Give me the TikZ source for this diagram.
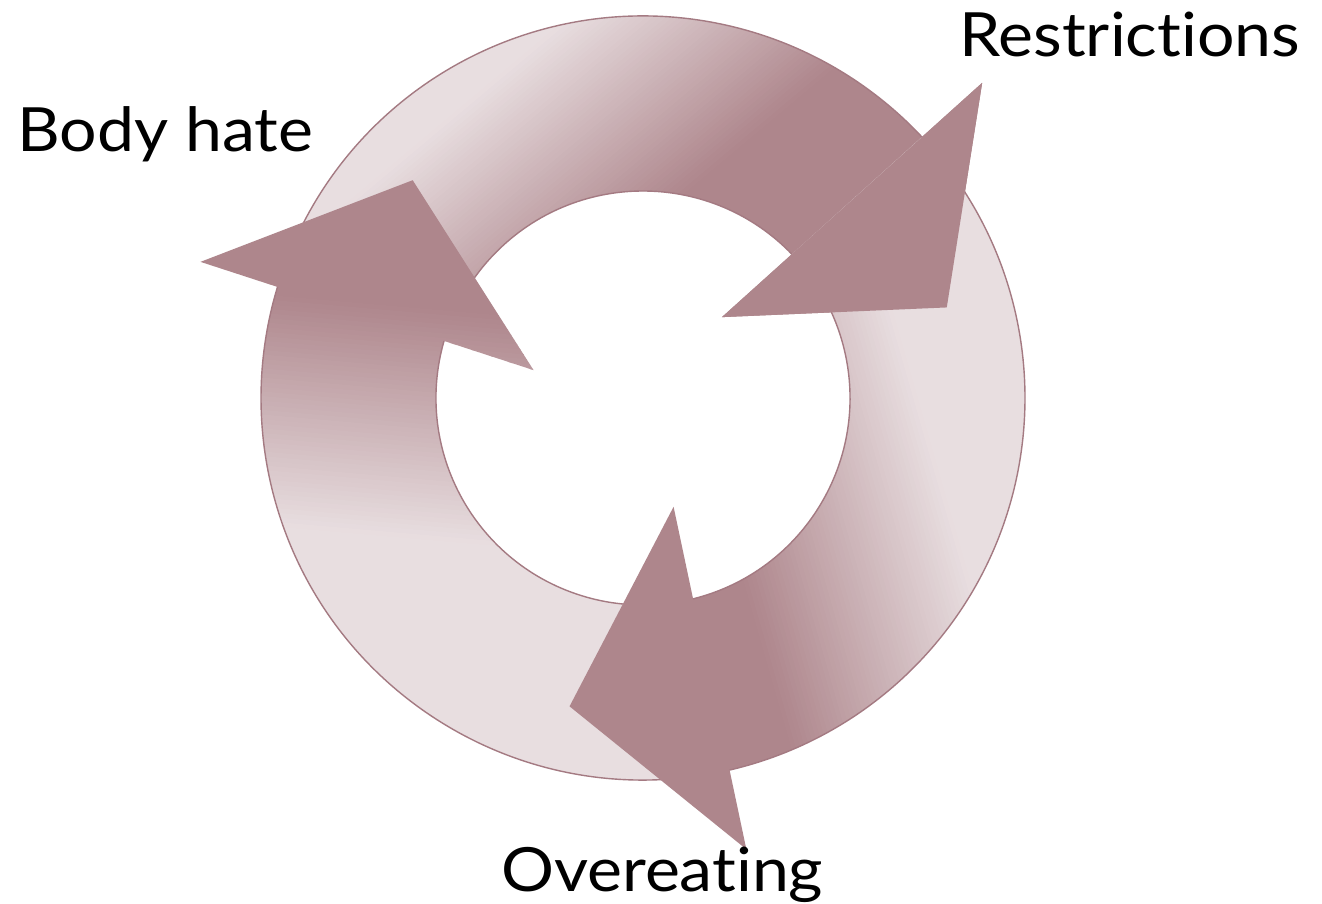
\documentclass[tikz,border=0pt]{standalone}
\usepackage{fontspec}
\setmainfont{Lato}[Ligatures={NoCommon,NoRare,NoContextual}, FakeStretch=1.085]
\definecolor{mauvedark}{HTML}{AE868C}
\definecolor{mauvelight}{HTML}{E8DEE0}
\definecolor{mauveline}{HTML}{A47A82}
\tikzset{
  arrowpath/.style={insert path={({#1+118.8}:382pt) arc[start angle={#1+118.8}, end angle={#1-1.2}, radius=382pt] -- ({#1-1.4}:463pt) -- ({#1-27.7}:317pt) -- ({#1+1.4}:113pt) -- ({#1-0.3}:207pt) arc[start angle={#1-0.3}, end angle={#1+119.7}, radius=207pt] -- cycle}},
  headpath/.style={insert path={({#1-1.4}:463pt) -- ({#1-27.7}:317pt) -- ({#1+1.4}:113pt) -- cycle}},
  ringedge/.style={draw=mauveline, line width=1.4pt},
  cyclelabel/.style={inner sep=0pt, font=\fontsize{61pt}{72pt}\selectfont, text=black}
}
\newcommand{\gradfill}[3]{%
  \begin{scope}[rotate=#1]
    \fill[mauvedark] (-1300,-1300) rectangle (#2+0.6,1300);
    \foreach \i in {0,...,49}{
      \pgfmathsetmacro{\xa}{#2+(#3-#2)*\i/50}
      \pgfmathsetmacro{\xb}{#2+(#3-#2)*(\i+1)/50+0.6}
      \pgfmathtruncatemacro{\pc}{99-2*\i}
      \fill[mauvedark!\pc!mauvelight] (\xa,-1300) rectangle (\xb,1300);
    }
    \fill[mauvelight] (#3,-1300) rectangle (1300,1300);
  \end{scope}}
\newcommand{\arrowedges}[1]{%
  \draw[ringedge] ({#1+118.8}:382pt) arc[start angle={#1+118.8}, end angle={#1-1.2}, radius=382pt];
  \draw[ringedge] ({#1-0.3}:207pt) arc[start angle={#1-0.3}, end angle={#1+119.7}, radius=207pt];}
\begin{document}
\begin{tikzpicture}[x=1pt,y=1pt]
\useasboundingbox[fill=white] (0,0) rectangle (1322,903);
\begin{scope}[shift={(643,505)}]
  % arrow to Restrictions
  \begin{scope}\clip[arrowpath=44.3]; \gradfill{130}{130}{340}\end{scope}
  \arrowedges{44.3}
  % arrow to Body hate
  \begin{scope}\clip[arrowpath=164.3]; \gradfill{265}{-70}{160}\end{scope}
  \arrowedges{164.3}
  % arrow to Overeating
  \begin{scope}\clip[arrowpath=-75.7]; \gradfill{16}{46}{264}\end{scope}
  \arrowedges{-75.7}
  % head of the Restrictions arrow over the tail of the Overeating arrow
  \begin{scope}\clip[headpath=44.3]; \gradfill{130}{130}{340}\end{scope}
\end{scope}
\node[cyclelabel, anchor=base west] (restr) at (959,846) {Restrictions};
\node[cyclelabel, anchor=base west] (body) at (17,751) {Body hate};
\node[cyclelabel, anchor=base west] (over) at (501,12) {Overeating};
\end{tikzpicture}
\end{document}
